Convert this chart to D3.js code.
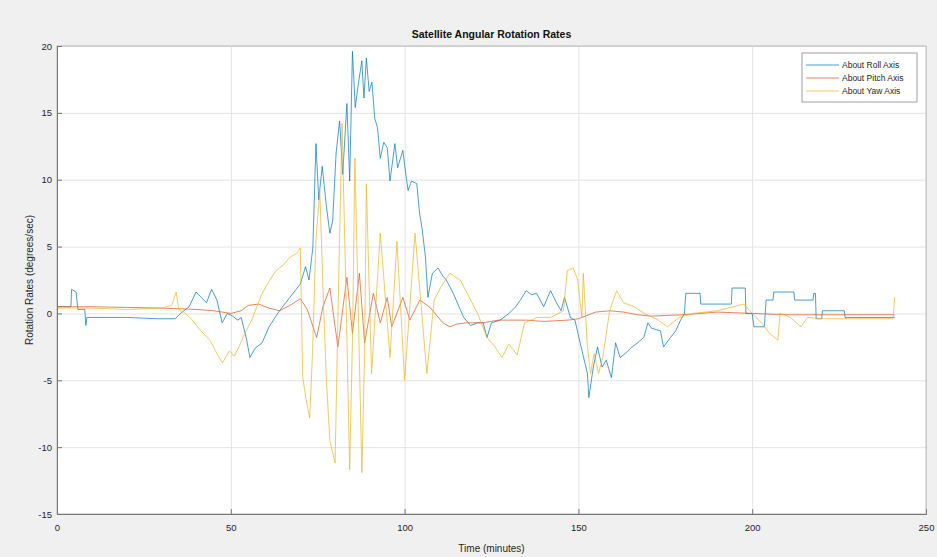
<!DOCTYPE html>
<html>
<head>
<meta charset="utf-8">
<script src="https://cdn.jsdelivr.net/npm/d3@7"></script>
<style>
  body { margin: 0; background: #f0f0f0; }
  svg { display: block; font-family: "Liberation Sans", Arial, sans-serif; }
  .tick text { fill: #262626; font-size: 9.5px; }
</style>
</head>
<body>
<div class="root"></div>
<script>
var width = 937,
    height = 557,
    margin = {top: 46, right: 11, bottom: 43, left: 57},
    colors = ["#0072bd", "#d95319", "#edb120"];

var seriesNames = ["About Roll Axis", "About Pitch Axis", "About Yaw Axis"];
var xTicks = [0, 50, 100, 150, 200, 250];
var yTicks = [-15, -10, -5, 0, 5, 10, 15, 20];

// roll rate (deg/s) vs time (min)
var rollTime = [0, 4, 4.2, 5.5, 6, 8, 8.3, 8.6, 20, 29, 34, 36, 38, 40, 41.5, 43, 44.5, 46, 47.5, 49,
  50.5, 52, 53, 54.5, 55.5, 57, 59, 61, 64, 67, 70, 71.5, 72.5, 73.6, 74.5, 75.3, 76.3, 77.5, 78.5, 79.3,
  80.3, 81.3, 82.2, 83.4, 84.2, 85, 85.8, 86.6, 87.7, 88.3, 89, 89.8, 90.6, 91.4, 92.2, 93, 94, 95, 95.8, 97.2,
  98, 99.5, 100.3, 101, 102, 103.5, 104.3, 105, 106, 106.7, 108, 109.6, 111, 112, 114, 116, 117, 119, 121, 122.6,
  123.7, 125, 127.5, 130, 132, 133.8, 135, 136.5, 138, 140, 142, 143.5, 145, 146, 147.7, 149, 150.5, 152.6, 153, 154.3,
  155.5, 156.8, 158, 159.5, 160.7, 162, 163.5, 165, 167, 168.8, 170, 171, 173.6, 174.5, 176.5, 178, 179.4, 180.5, 180.9, 185,
  185.2, 194, 194.2, 198, 198.2, 200, 200.5, 203.5, 204, 206, 206.2, 212, 212.2, 217.5, 217.7, 218.2, 218.4, 220, 220.2, 226.5,
  226.7, 241];
var rollRate = [0.5, 0.5, 1.8, 1.6, 0.3, 0.3, -0.9, -0.3, -0.3, -0.4, -0.4, 0.1, 0.5, 1.6, 1.2, 0.8, 1.8, 1.0, -0.7, 0.0,
  -0.2, -0.5, -0.3, -1.9, -3.3, -2.6, -2.2, -1.0, 0.2, 1.2, 2.2, 3.5, 2.5, 4.9, 12.7, 8.5, 11.0, 8.0, 6.0, 6.9,
  12.0, 14.4, 10.4, 15.7, 9.9, 19.6, 15.4, 17.0, 18.9, 16.1, 19.1, 16.6, 17.3, 14.6, 13.9, 11.6, 12.8, 12.4, 9.9, 12.7,
  10.9, 12.2, 10.5, 9.2, 9.9, 9.7, 7.5, 6.4, 4.2, 1.2, 3.0, 3.4, 2.8, 2.5, 1.5, 0.3, -0.3, -0.9, -0.7, -0.7,
  -1.8, -0.7, -0.5, 0.0, 0.5, 1.2, 1.7, 1.4, 1.5, 0.5, 1.7, 0.9, 0.2, 1.2, -0.3, -0.5, -2.2, -4.5, -6.3, -4.0,
  -2.5, -4.0, -3.5, -4.8, -2.2, -3.3, -3.0, -2.6, -2.2, -1.8, -0.7, -1.1, -1.3, -2.5, -1.8, -1.3, -0.5, 0.0, 1.5, 1.5,
  0.7, 0.7, 1.9, 1.9, 0.0, 0.0, -1.0, -1.0, 1.0, 1.0, 1.6, 1.6, 1.0, 1.0, 1.5, 1.5, -0.4, -0.4, 0.2, 0.2,
  -0.3, -0.3];

// pitch rate
var pitchTime = [0, 10, 20, 30, 35, 40, 45, 50, 53, 55, 58, 61, 64, 67, 70, 72, 74.7, 76.5, 78.5, 80.8,
  83.4, 85, 87, 88.5, 91, 93, 95, 96.3, 99.5, 101.5, 104.4, 107.3, 111, 113, 115, 118, 122.6, 127, 135, 140,
  147, 150, 152, 155, 159, 163, 167, 171, 180, 190, 200, 210, 220, 230, 241];
var pitchRate = [0.5, 0.5, 0.45, 0.4, 0.35, 0.3, 0.2, 0.0, 0.2, 0.6, 0.7, 0.4, 0.2, 0.6, 1.1, 0.3, -1.8, 0.5, 1.9, -2.5,
  2.7, -1.5, 3.0, -2.2, 1.5, -0.7, 1.2, -1.0, 1.2, -0.5, 1.0, 0.45, -0.7, -1.0, -0.8, -0.7, -0.7, -0.5, -0.5, -0.6,
  -0.5, -0.4, -0.2, 0.1, 0.2, 0.1, -0.1, -0.2, -0.1, 0.1, 0.0, -0.1, -0.1, -0.1, -0.1];

// yaw rate
var yawTime = [0, 10, 20, 30, 33, 34.3, 35, 37, 39, 41, 44, 46, 47.6, 49.6, 51, 52.5, 54, 56, 57.5, 59,
  61, 63, 65, 67, 69, 70, 70.7, 71.7, 72.7, 73.5, 74.5, 75.6, 76.5, 77.5, 78.5, 80, 81, 82, 83, 84.2,
  85, 85.7, 86.7, 87.7, 88.5, 89, 89.8, 90.5, 93, 95.8, 97.8, 100, 103, 106.4, 108.5, 110.5, 113, 116, 119, 121,
  123.7, 126, 128, 130, 132.4, 134.5, 138, 142, 145.7, 146.8, 148.5, 149.8, 151, 151.4, 152.6, 153.5, 154.5, 155.8, 157, 159,
  161, 163, 166, 169, 173, 175.6, 179, 183, 190, 197.6, 200, 203, 205, 207.4, 208, 211, 214, 216, 220, 230,
  240.5, 241];
var yawRate = [0.4, 0.4, 0.3, 0.4, 0.6, 1.6, 0.3, 0.0, -0.5, -1.2, -2.0, -3.0, -3.7, -2.8, -3.2, -2.4, -1.5, -0.5, 0.5, 1.5,
  2.4, 3.2, 3.6, 4.2, 4.5, 4.9, -4.8, -6.5, -7.8, -3.0, 5.5, 9.2, 2.0, -5.0, -9.5, -11.2, 2.0, 14.2, 3.0, -11.7,
  -2.0, 11.6, 0.0, -11.9, -3.0, 9.7, 2.0, -4.5, 6.0, -3.3, 5.4, -5.0, 6.0, -4.5, 1.0, 2.0, 3.0, 2.5, 1.0, 0.0,
  -1.8, -2.5, -3.3, -2.3, -3.1, -0.7, -0.3, -0.3, 0.2, 3.2, 3.4, 2.5, -0.3, 3.0, -2.5, -4.5, -3.0, -4.5, -3.3, 0.2,
  1.7, 0.8, 0.5, 0.0, -0.5, -1.0, -0.3, 0.0, 0.2, 0.7, 0.0, -0.8, -1.5, -2.0, 0.0, -0.3, -1.0, -0.3, -0.4, -0.4,
  -0.4, 1.2];

var series = [
  {name: seriesNames[0], t: rollTime, v: rollRate},
  {name: seriesNames[1], t: pitchTime, v: pitchRate},
  {name: seriesNames[2], t: yawTime, v: yawRate}
];

var svg = d3.select(".root").append("svg")
    .attr("width", width)
    .attr("height", height);

svg.append("rect").attr("width", width).attr("height", height).attr("fill", "#f0f0f0");

var x = d3.scaleLinear().domain([0, 250]).range([margin.left, width - margin.right]);
var y = d3.scaleLinear().domain([-15, 20]).range([height - margin.bottom, margin.top]);

// plot area
svg.append("rect")
    .attr("x", x(0)).attr("y", y(20))
    .attr("width", x(250) - x(0)).attr("height", y(-15) - y(20))
    .attr("fill", "white");

// grid
svg.append("g")
    .attr("transform", "translate(0," + y(-15) + ")")
    .call(d3.axisBottom(x).tickValues(xTicks).tickSize(-(y(-15) - y(20))).tickFormat(""))
    .call(g => g.select(".domain").remove())
    .call(g => g.selectAll("line").attr("stroke", "#e3e3e3"));
svg.append("g")
    .attr("transform", "translate(" + x(0) + ",0)")
    .call(d3.axisLeft(y).tickValues(yTicks).tickSize(-(x(250) - x(0))).tickFormat(""))
    .call(g => g.select(".domain").remove())
    .call(g => g.selectAll("line").attr("stroke", "#e3e3e3"));

// lines
var line = d3.line()
    .x(d => x(d[0]))
    .y(d => y(d[1]));

svg.append("g").selectAll("path")
  .data(series)
  .enter().append("path")
    .attr("d", s => line(s.t.map((t, i) => [t, s.v[i]])))
    .attr("fill", "none")
    .attr("stroke", (s, i) => colors[i])
    .attr("stroke-width", 0.7)
    .attr("stroke-linejoin", "round");

// box
svg.append("rect")
    .attr("x", x(0)).attr("y", y(20))
    .attr("width", x(250) - x(0)).attr("height", y(-15) - y(20))
    .attr("fill", "none")
    .attr("stroke", "#b8b8b8");

// axes, ticks pointing inward
svg.append("g")
    .attr("transform", "translate(0," + y(-15) + ")")
    .call(d3.axisBottom(x).tickValues(xTicks).tickSize(-5).tickPadding(10).tickFormat(d => String(d)))
    .call(g => g.selectAll("line, .domain").attr("stroke", "#777"));
svg.append("g")
    .attr("transform", "translate(" + x(0) + ",0)")
    .call(d3.axisLeft(y).tickValues(yTicks).tickSize(-5).tickPadding(5).tickFormat(d => String(d)))
    .call(g => g.selectAll("line, .domain").attr("stroke", "#777"));

// title and labels
svg.append("text")
    .attr("x", (x(0) + x(250)) / 2).attr("y", 38)
    .attr("text-anchor", "middle")
    .attr("font-size", 10.5).attr("font-weight", "bold").attr("fill", "#111")
    .text("Satellite Angular Rotation Rates");

svg.append("text")
    .attr("x", (x(0) + x(250)) / 2).attr("y", 552)
    .attr("text-anchor", "middle")
    .attr("font-size", 10).attr("fill", "#262626")
    .text("Time (minutes)");

svg.append("text")
    .attr("transform", "translate(33," + (y(-15) + y(20)) / 2 + ") rotate(-90)")
    .attr("text-anchor", "middle")
    .attr("font-size", 10).attr("fill", "#262626")
    .text("Rotation Rates (degrees/sec)");

// legend
var legend = svg.append("g").attr("transform", "translate(802,53)");
legend.append("rect")
    .attr("width", 115).attr("height", 49)
    .attr("fill", "white").attr("stroke", "#a0a0a0");
var item = legend.selectAll("g.item")
  .data(seriesNames)
  .enter().append("g")
    .attr("class", "item")
    .attr("transform", (d, i) => "translate(0," + (12 + i * 13) + ")");
item.append("line")
    .attr("x1", 4).attr("x2", 37)
    .attr("stroke", (d, i) => colors[i])
    .attr("stroke-width", 0.7);
item.append("text")
    .attr("x", 40).attr("dy", "0.33em")
    .attr("font-size", 8.5).attr("fill", "#262626")
    .text(d => d);
</script>
</body>
</html>
